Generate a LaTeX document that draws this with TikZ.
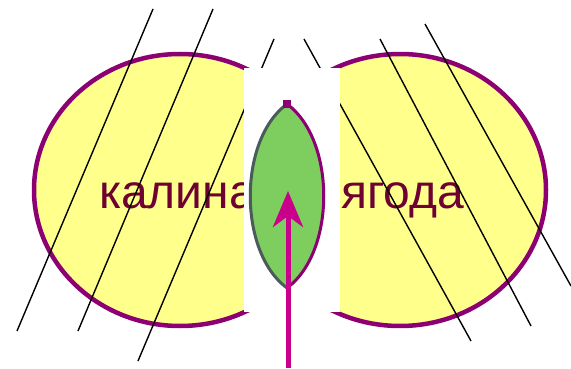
\documentclass[tikz,border=0pt]{standalone}
\usepackage{fontspec}
\setmainfont{Liberation Sans}
\usetikzlibrary{shapes.geometric,arrows.meta}
\definecolor{ringpurple}{RGB}{140,0,115}
\definecolor{fillyellow}{RGB}{255,255,140}
\definecolor{wordcol}{RGB}{110,0,50}
\definecolor{leafgreen}{RGB}{125,205,95}
\definecolor{leafgrey}{RGB}{75,90,90}
\definecolor{arrowmag}{RGB}{200,0,140}
\tikzset{
  setring/.style={ellipse, draw=ringpurple, line width=4.5pt, fill=fillyellow, minimum width=292pt, minimum height=272pt, inner sep=0pt},
  word/.style={font=\fontsize{48}{48}\selectfont, text=wordcol, anchor=base west, inner sep=0pt},
  hatch/.style={black, line width=1.4pt},
}
\begin{document}
\begin{tikzpicture}[x=1pt,y=-1pt]
\useasboundingbox (0,0) rectangle (571,369);
% two sets
\node[setring] (left) at (180,190) {};
\node[setring] (right) at (400,190) {};
% words
\node[word] (kalina) at (99,208) {калина};
\node[word] (yagoda) at (341,208) {ягода};
% hatch lines
\coordinate (l1a) at (153,9);   \coordinate (l1b) at (17,331);
\coordinate (l2a) at (213,9);   \coordinate (l2b) at (78,331);
\coordinate (l3a) at (274,39);  \coordinate (l3b) at (138,361);
\coordinate (r1a) at (304,39);  \coordinate (r1b) at (471,341);
\coordinate (r2a) at (380,39);  \coordinate (r2b) at (531,326);
\coordinate (r3a) at (425,24);  \coordinate (r3b) at (571,286);
\draw[hatch] (l1a) -- (l1b);
\draw[hatch] (l2a) -- (l2b);
\draw[hatch] (l3a) -- (l3b);
\draw[hatch] (r1a) -- (r1b);
\draw[hatch] (r2a) -- (r2b);
\draw[hatch] (r3a) -- (r3b);
% white panel
\node[fill=white, minimum width=96pt, minimum height=244pt, inner sep=0pt] (panel) at (292,190) {};
% leaf (intersection)
\coordinate (ltop) at (287,104);
\coordinate (lbot) at (287,288);
\fill[leafgreen] (ltop) .. controls (238,140) and (238,252) .. (lbot)
   .. controls (336,252) and (336,140) .. (ltop) -- cycle;
\draw[leafgrey, line width=3pt] (ltop) .. controls (238,140) and (238,252) .. (lbot);
\draw[ringpurple, line width=3pt] (lbot) .. controls (336,252) and (336,140) .. (ltop);
\node[fill=ringpurple, minimum size=8pt, inner sep=0pt] (tip) at (287,104) {};
% arrow
\coordinate (abot) at (288,368);
\coordinate (atip) at (288,191);
\draw[arrowmag, line width=5pt, -{Stealth[length=36pt, width=30pt, inset=11pt]}] (abot) -- (atip);
\end{tikzpicture}
\end{document}
